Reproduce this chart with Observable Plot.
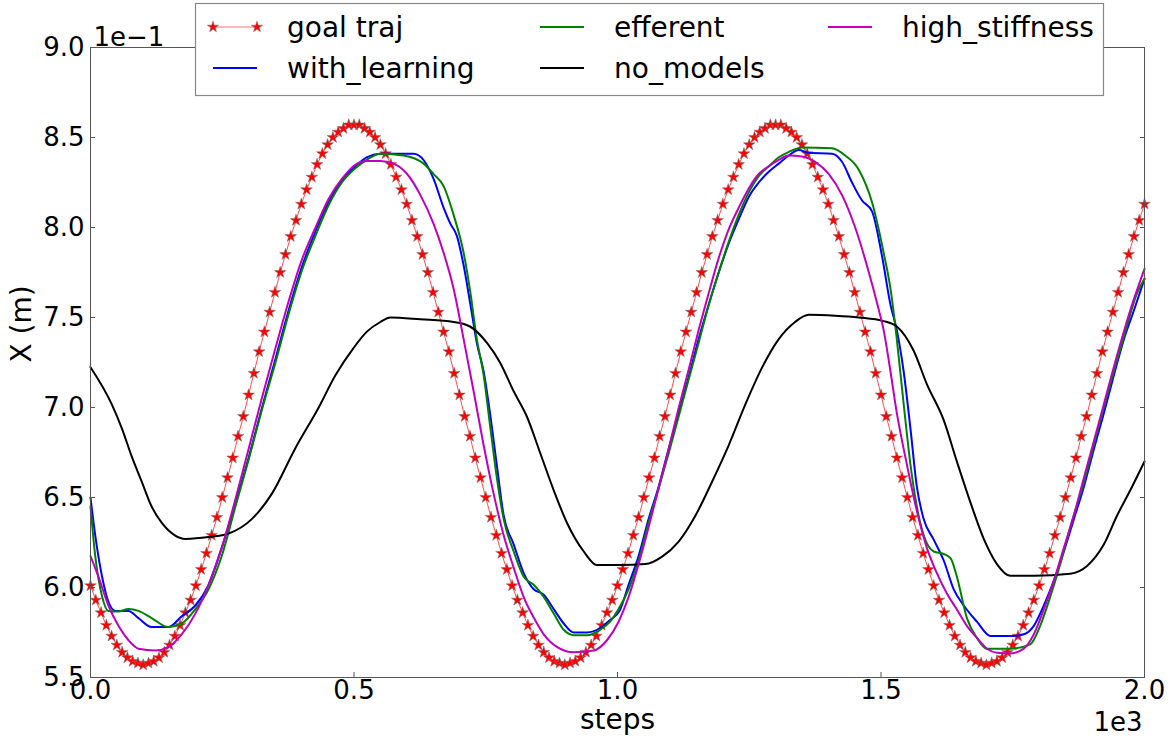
<!DOCTYPE html>
<html><head><meta charset="utf-8">
<script src="https://cdn.jsdelivr.net/npm/d3@7"></script>
<script src="https://cdn.jsdelivr.net/npm/@observablehq/plot@0.6"></script>
<style>
html,body{margin:0;padding:0;background:#fff;}
#wrap{position:relative;width:1175px;height:740px;font-family:"DejaVu Sans",sans-serif;}
#wrap > svg{display:block}
</style></head><body><div id="wrap"></div>
<script>
// ---- data ----
const seriesNames = ["goal traj", "with_learning", "efferent", "no_models", "high_stiffness"];
const seriesColors = ["#ff0000", "#0000ff", "#008000", "#000000", "#bf00bf"];
const xTicks = [0, 500, 1000, 1500, 2000];
const yTicks = [0.55, 0.60, 0.65, 0.70, 0.75, 0.80, 0.85, 0.90];

const goalSteps = d3.range(0, 2001, 10);
const goalX = [0.601,0.593,0.586,0.579,0.573,0.568,0.564,0.561,0.559,0.558,0.557,
 0.558,0.559,0.561,0.564,0.568,0.573,0.579,0.586,0.593,0.601,
 0.610,0.619,0.629,0.639,0.650,0.661,0.672,0.684,0.695,0.707,
 0.719,0.731,0.742,0.753,0.764,0.775,0.785,0.795,0.804,0.813,
 0.821,0.828,0.835,0.841,0.846,0.850,0.853,0.855,0.857,0.857,
 0.857,0.855,0.853,0.850,0.846,0.841,0.835,0.828,0.821,0.813,
 0.804,0.795,0.785,0.775,0.764,0.753,0.742,0.731,0.719,0.707,
 0.695,0.684,0.672,0.661,0.650,0.639,0.629,0.619,0.610,0.601,
 0.593,0.586,0.579,0.573,0.568,0.564,0.561,0.559,0.558,0.557,
 0.558,0.559,0.561,0.564,0.568,0.573,0.579,0.586,0.593,0.601,
 0.610,0.619,0.629,0.639,0.650,0.661,0.672,0.684,0.695,0.707,
 0.719,0.731,0.742,0.753,0.764,0.775,0.785,0.795,0.804,0.813,
 0.821,0.828,0.835,0.841,0.846,0.850,0.853,0.855,0.857,0.857,
 0.857,0.855,0.853,0.850,0.846,0.841,0.835,0.828,0.821,0.813,
 0.804,0.795,0.785,0.775,0.764,0.753,0.742,0.731,0.719,0.707,
 0.695,0.684,0.672,0.661,0.650,0.639,0.629,0.619,0.610,0.601,
 0.593,0.586,0.579,0.573,0.568,0.564,0.561,0.559,0.558,0.557,
 0.558,0.559,0.561,0.564,0.568,0.573,0.579,0.586,0.593,0.601,
 0.610,0.619,0.629,0.639,0.650,0.661,0.672,0.684,0.695,0.707,
 0.719,0.731,0.742,0.753,0.764,0.775,0.785,0.795,0.804,0.813];

const learnSteps = [0,9,22,34,47,72,91,116,148,173,199,224,249,275,300,325,351,376,401,427,452,477,503,524,550,613,632,651,670,683,695,708,721,733,746,758,771,784,803,822,841,860,879,898,917,942,967,986,1004,1021,1040,1059,1078,1097,1116,1135,1154,1173,1192,1211,1230,1249,1268,1287,1306,1325,1344,1363,1407,1426,1445,1464,1483,1502,1518,1530,1543,1556,1568,1581,1600,1619,1638,1657,1682,1708,1745,1771,1790,1809,1828,1847,1866,1885,1904,1923,1942,1961,1980,2000];
const learnX = [0.650,0.629,0.606,0.592,0.587,0.587,0.583,0.578,0.578,0.584,0.590,0.6015,0.622,0.647,0.672,0.6995,0.727,0.754,0.778,0.798,0.814,0.826,0.834,0.839,0.841,0.841,0.8375,0.827,0.811,0.802,0.7955,0.779,0.757,0.736,0.720,0.697,0.668,0.640,0.624,0.608,0.599,0.596,0.588,0.580,0.575,0.575,0.5775,0.582,0.587,0.6015,0.6175,0.638,0.656,0.677,0.697,0.717,0.738,0.757,0.775,0.791,0.8045,0.817,0.825,0.831,0.8355,0.840,0.843,0.8415,0.841,0.8365,0.825,0.815,0.809,0.784,0.757,0.743,0.720,0.688,0.656,0.638,0.6266,0.615,0.599,0.590,0.581,0.573,0.573,0.574,0.5787,0.590,0.6038,0.620,0.638,0.656,0.677,0.697,0.718,0.738,0.754,0.7715];

const effSteps = [0,9,22,34,53,72,91,116,148,173,199,224,249,275,300,325,351,376,401,427,452,477,503,524,550,594,632,651,670,689,708,721,733,746,758,771,784,803,822,841,860,879,898,917,942,967,986,1002,1021,1040,1059,1078,1097,1116,1135,1154,1173,1192,1211,1230,1249,1268,1287,1306,1325,1350,1407,1432,1458,1483,1505,1518,1530,1543,1556,1568,1581,1600,1619,1632,1644,1663,1682,1701,1745,1783,1802,1821,1840,1859,1885,1910,1935,1961,1986,2000];
const effX = [0.645,0.6175,0.595,0.587,0.5867,0.588,0.587,0.583,0.578,0.580,0.588,0.599,0.6175,0.645,0.671,0.6985,0.725,0.752,0.776,0.7955,0.8125,0.825,0.833,0.8376,0.841,0.840,0.8355,0.8297,0.823,0.807,0.786,0.7635,0.738,0.718,0.6905,0.661,0.638,0.620,0.606,0.6015,0.5947,0.5855,0.5765,0.5735,0.5735,0.5765,0.581,0.588,0.599,0.615,0.636,0.655,0.6745,0.695,0.7156,0.736,0.757,0.775,0.792,0.807,0.8195,0.8285,0.834,0.839,0.842,0.8445,0.844,0.840,0.832,0.814,0.786,0.766,0.738,0.702,0.668,0.645,0.629,0.620,0.6186,0.6163,0.606,0.583,0.572,0.566,0.566,0.5684,0.5787,0.5947,0.613,0.6335,0.6585,0.686,0.713,0.7395,0.7635,0.7715];

const noModSteps = [0,40,60,78,97,116,135,160,180,224,262,306,344,388,433,465,499,524,550,569,626,689,720,752,777,803,828,853,879,904,936,961,1005,1053,1084,1116,1148,1179,1211,1243,1274,1306,1337,1363,1413,1458,1505,1530,1562,1587,1619,1644,1670,1695,1720,1745,1790,1859,1891,1923,1948,1973,2000];
const noModX = [0.7224,0.702,0.688,0.673,0.659,0.645,0.636,0.629,0.627,0.628,0.630,0.638,0.652,0.677,0.700,0.718,0.733,0.742,0.7475,0.750,0.749,0.7475,0.745,0.736,0.725,0.709,0.695,0.675,0.654,0.636,0.620,0.6125,0.6125,0.613,0.617,0.6255,0.640,0.6585,0.679,0.702,0.722,0.738,0.7475,0.7515,0.751,0.750,0.748,0.745,0.7315,0.713,0.693,0.670,0.647,0.627,0.613,0.6065,0.6065,0.6077,0.612,0.624,0.640,0.654,0.670];

const stiffSteps = [0,15,34,53,72,91,123,148,173,199,224,249,275,300,325,351,376,401,427,452,477,503,524,550,575,600,626,651,670,689,708,727,746,765,784,803,822,841,860,885,917,955,980,1002,1021,1040,1059,1078,1097,1116,1135,1154,1173,1192,1211,1230,1249,1268,1287,1306,1325,1350,1375,1401,1426,1451,1477,1496,1505,1518,1530,1543,1556,1568,1587,1606,1625,1644,1663,1682,1701,1720,1745,1771,1790,1809,1828,1847,1866,1885,1904,1923,1948,1973,2000];
const stiffX = [0.6175,0.606,0.590,0.5787,0.5707,0.566,0.565,0.567,0.574,0.5855,0.6015,0.622,0.649,0.677,0.705,0.733,0.759,0.782,0.800,0.816,0.827,0.835,0.837,0.837,0.8355,0.830,0.818,0.802,0.786,0.766,0.738,0.709,0.679,0.652,0.629,0.611,0.5947,0.5833,0.574,0.567,0.564,0.565,0.5707,0.581,0.5947,0.613,0.6335,0.655,0.677,0.6996,0.721,0.743,0.7635,0.783,0.799,0.811,0.8217,0.8297,0.834,0.8376,0.840,0.8395,0.8365,0.8297,0.818,0.800,0.775,0.754,0.743,0.720,0.697,0.677,0.6585,0.6426,0.622,0.608,0.5967,0.5878,0.5787,0.572,0.566,0.5638,0.5634,0.566,0.574,0.5878,0.6038,0.622,0.640,0.661,0.6814,0.702,0.729,0.754,0.777];

// ---- build tables ----
const rows = (steps, vals, name) => steps.map((s, i) => ({step: s, x: vals[i], series: name}));
const goalRows = rows(goalSteps, goalX, seriesNames[0]);
const lineSets = [
  [rows(learnSteps, learnX, seriesNames[1]), seriesColors[1]],
  [rows(effSteps, effX, seriesNames[2]), seriesColors[2]],
  [rows(noModSteps, noModX, seriesNames[3]), seriesColors[3]],
  [rows(stiffSteps, stiffX, seriesNames[4]), seriesColors[4]]
];

const frameColor = "#555";
const chart = Plot.plot({
  width: 1175, height: 740,
  marginLeft: 90, marginRight: 31, marginTop: 47, marginBottom: 63,
  style: {fontFamily: "'DejaVu Sans', sans-serif", fontSize: "26px", color: "#000", background: "white", overflow: "visible"},
  x: {domain: [0, 2000]},
  y: {domain: [0.55, 0.90]},
  marks: [
    Plot.line(goalRows, {x: "step", y: "x", stroke: "#ff2020", strokeOpacity: 0.8, strokeWidth: 1}),
    Plot.dot(goalRows, {x: "step", y: "x", symbol: "star", r: 3.7, fill: seriesColors[0], stroke: "#777", strokeWidth: 0.5}),
    ...lineSets.map(([d, c]) => Plot.line(d, {x: "step", y: "x", stroke: c, strokeWidth: 2, curve: "monotone-x"})),
    Plot.frame({stroke: frameColor}),
    Plot.axisX(xTicks, {anchor: "bottom", tickSize: 0, tickPadding: 3, tickFormat: d => (d / 1000).toFixed(1), label: null, fontSize: 26}),
    Plot.axisX(xTicks, {anchor: "bottom", tickSize: -5, tickFormat: () => "", label: null, stroke: frameColor}),
    Plot.axisX(xTicks, {anchor: "top", tickSize: -5, tickFormat: () => "", label: null, stroke: frameColor}),
    Plot.axisY(yTicks, {anchor: "left", tickSize: 0, tickPadding: 6, tickFormat: d => (d * 10).toFixed(1), label: null, fontSize: 26}),
    Plot.axisY(yTicks, {anchor: "left", tickSize: -5, tickFormat: () => "", label: null, stroke: frameColor}),
    Plot.axisY(yTicks, {anchor: "right", tickSize: -5, tickFormat: () => "", label: null, stroke: frameColor}),
    Plot.text(["1e\u22121"], {text: d => d, frameAnchor: "top-left", textAnchor: "start", lineAnchor: "bottom", dx: 3, dy: -2, fontSize: 26}),
    Plot.text(["1e3"], {text: d => d, frameAnchor: "bottom-right", textAnchor: "end", lineAnchor: "bottom", dx: -2, dy: 53, fontSize: 26}),
    Plot.text(["steps"], {text: d => d, frameAnchor: "bottom", lineAnchor: "bottom", dy: 51, fontSize: 28}),
    Plot.text(["X (m)"], {text: d => d, frameAnchor: "left", rotate: -90, lineAnchor: "middle", dx: -68, fontSize: 28})
  ]
});
document.getElementById("wrap").appendChild(chart);

// ---- legend (overlay box at top of the axes) ----
const leg = d3.select("#wrap").append("svg")
  .attr("width", 912).attr("height", 96)
  .style("position", "absolute").style("left", "194px").style("top", "2px")
  .style("font-family", "'DejaVu Sans', sans-serif").style("font-size", "28px");
leg.append("rect").attr("x", 1.5).attr("y", 1.5).attr("width", 908).attr("height", 92)
  .attr("fill", "white").attr("stroke", "#888").attr("stroke-width", 1.2);
const colX = [19, 346, 634];
const rowY = [25, 66];
const items = seriesNames.map((n, i) => ({name: n, color: seriesColors[i], col: Math.floor(i / 2), row: i % 2}));
const star = d3.symbol(d3.symbolStar, 40)();
items.forEach((it, i) => {
  const x0 = colX[it.col], y0 = rowY[it.row];
  const g = leg.append("g");
  if (i === 0) {
    g.append("line").attr("x1", x0).attr("x2", x0 + 44).attr("y1", y0).attr("y2", y0)
      .attr("stroke", "#ff3030").attr("stroke-opacity", 0.45).attr("stroke-width", 1.5);
    [x0, x0 + 44].forEach(px => g.append("path").attr("d", star).attr("transform", `translate(${px},${y0})`)
      .attr("fill", it.color).attr("stroke", "#777").attr("stroke-width", 0.5));
  } else {
    g.append("line").attr("x1", x0).attr("x2", x0 + 44).attr("y1", y0).attr("y2", y0)
      .attr("stroke", it.color).attr("stroke-width", 2);
  }
  g.append("text").attr("x", x0 + 74).attr("y", y0 + 10).attr("fill", "#000").text(it.name);
});
</script>
</body></html>
